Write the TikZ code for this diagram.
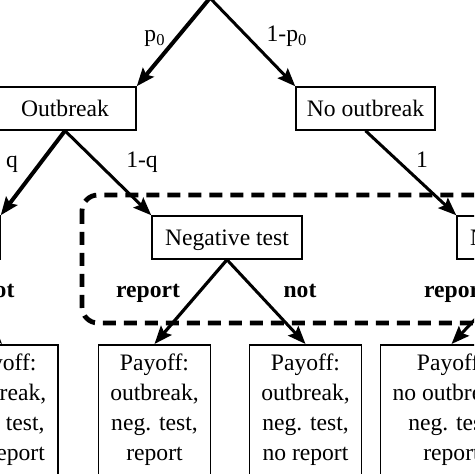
\documentclass[tikz,border=0pt]{standalone}
\usepackage{fontspec}
\setmainfont{Liberation Serif}
\usetikzlibrary{arrows.meta}
\tikzset{
	box/.style={draw, line width=0.75pt, inner sep=0pt, minimum height=21.5pt, text depth=0pt, font=\fontsize{11.8}{14}\selectfont},
	payoff/.style={draw, line width=0.75pt, anchor=north, align=center, inner xsep=6pt, inner ysep=0pt, minimum height=65pt, font=\fontsize{11.8}{15}\selectfont},
	branch/.style={-{Stealth[length=9pt,width=7pt,inset=1.5pt]}, line width=1.5pt},
	chosen/.style={branch, line width=2pt},
	prob/.style={anchor=base, font=\fontsize{11.8}{14}\selectfont},
	act/.style={anchor=base, font=\fontsize{11.8}{14}\selectfont\bfseries},
	infoset/.style={line width=2.4pt, dash pattern=on 6.5pt off 4pt, rounded corners=8pt}
}

\begin{document}
\begin{tikzpicture}[x=0.5pt, y=-0.5pt]
			%%%%% START %%%%%
			
			\useasboundingbox (0, 0) rectangle (474, 474);
			\clip (0, 0) rectangle (474, 474);
			
			\coordinate (root) at (210, -2);
			\node[box, minimum width=71pt] (ob) at (65, 108.5) {Outbreak};
			\node[box, minimum width=69.5pt] (nob) at (365.5, 108.5) {No outbreak};
			
			\node[box, minimum width=75pt] (pos) at (-75, 237.5) {Positive test};
			\node[box, minimum width=75pt] (neg) at (227, 237.5) {Negative test};
			\node[box, minimum width=75pt] (negb) at (532, 237.5) {Negative test};
			
			\node[payoff] (pay1) at (2, 344) {Payoff:\\outbreak,\\pos. test,\\no report};
			\node[payoff] (pay2) at (154.5, 344) {Payoff:\\outbreak,\\neg. test,\\report};
			\node[payoff] (pay3) at (305.5, 344) {Payoff:\\outbreak,\\neg. test,\\no report};
			\node[payoff] (pay4) at (451.5, 344) {Payoff:\\no outbreak,\\neg. test,\\report};
			
			\draw[infoset] (82, 195) rectangle (620, 323);
			
			\draw[chosen] (root) -- (ob.north east);
			\draw[branch] (root) -- (nob.north west);
			\draw[chosen] (ob.south) -- (pos.north east);
			\draw[branch] (ob.south) -- (neg.north west);
			\draw[branch] (nob.south) -- (negb.north west);
			
			\draw[branch] (pos.south) -- (pay1.north);
			\draw[branch, line width=1.6pt] (neg.south) -- (pay2.north);
			\draw[branch] (neg.south) -- (pay3.north);
			\draw[branch] (negb.south) -- (pay4.north);
			
			\node[prob] (lp0) at (155, 42) {p\textsubscript{0}};
			\node[prob] (l1p0) at (287, 42) {1-p\textsubscript{0}};
			\node[prob] (lq) at (12, 168) {q};
			\node[prob] (l1q) at (142, 168) {1-q};
			\node[prob] (l1) at (422, 168) {1};
			
			\node[act] (lrep) at (148, 298) {report};
			\node[act] (lnot) at (300, 298) {not};
			\node[act] (lnotp) at (-2, 298) {not};
			\node[act] (lrepb) at (456, 298) {report};
			
			%%%%% END %%%%%
\end{tikzpicture}
\end{document}
